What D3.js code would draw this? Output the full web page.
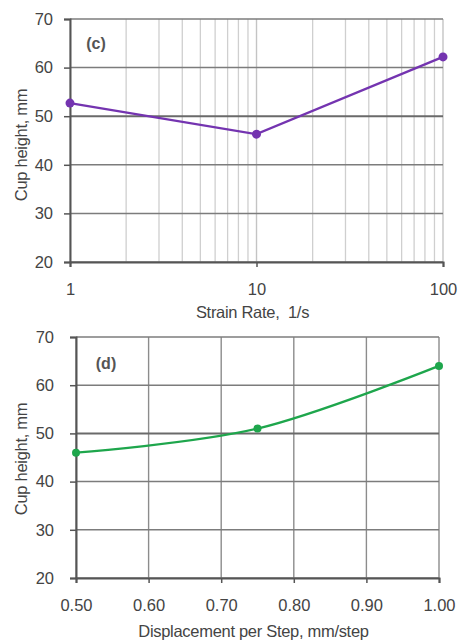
<!DOCTYPE html>
<html>
<head>
<meta charset="utf-8">
<script src="https://cdn.jsdelivr.net/npm/d3@7"></script>
<style>
  body { margin: 0; background: #fff; }
  text { font-family: "Liberation Sans", Arial, sans-serif; white-space: pre; }
</style>
</head>
<body>
<svg id="chart" width="460" height="642"></svg>
<script>
// panel (c): strain rate vs cup height
const strainRates = [1, 10, 100];
const cupHeightC = [52.7, 46.3, 62.2];
const strainTicks = [1, 10, 100];

// panel (d): displacement per step vs cup height
const displacements = [0.5, 0.75, 1.0];
const cupHeightD = [46.0, 51.0, 64.0];
const dispTicks = [0.5, 0.6, 0.7, 0.8, 0.9, 1.0];

const yTicks = [20, 30, 40, 50, 60, 70];

const svg = d3.select("#chart");

function panel({ top, bottom, left, right, x, xTicks, xFmt, minorTicks, vColor, xs, ys, color, curve, label, labelPos, xTitle, titleY, yTitleY, xPad, yPad, r }) {
  const y = d3.scaleLinear().domain([20, 70]).range([bottom, top]);
  x.range([left, right]);

  const g = svg.append("g");

  // minor vertical grid (log panel)
  g.selectAll(".minor")
    .data(minorTicks)
    .join("line")
    .attr("x1", (d) => x(d)).attr("x2", (d) => x(d))
    .attr("y1", top).attr("y2", bottom)
    .attr("stroke", "#cfcfcf")
    .attr("stroke-width", 1.3);

  // major vertical grid
  g.selectAll(".vgrid")
    .data(xTicks)
    .join("line")
    .attr("x1", (d) => x(d)).attr("x2", (d) => x(d))
    .attr("y1", top).attr("y2", bottom)
    .attr("stroke", vColor)
    .attr("stroke-width", 1.4);

  // horizontal grid
  g.selectAll(".hgrid")
    .data(yTicks)
    .join("line")
    .attr("x1", left).attr("x2", right)
    .attr("y1", (d) => y(d)).attr("y2", (d) => y(d))
    .attr("stroke", (d) => (d === 50 ? "#6a6a6a" : "#7c7c7c"))
    .attr("stroke-width", (d) => (d === 50 ? 2 : 1.5));

  // y axis
  const ya = g.append("g")
    .attr("transform", `translate(${left},0)`)
    .call(d3.axisLeft(y).tickValues(yTicks).tickSize(6).tickPadding(yPad));
  ya.select(".domain").attr("stroke", "#555").attr("stroke-width", 2);
  ya.selectAll(".tick line").attr("stroke", "#555").attr("stroke-width", 1.5);
  ya.selectAll(".tick text").attr("fill", "#444").style("font-size", "16.5px");

  // x axis
  const xa = g.append("g")
    .attr("transform", `translate(0,${bottom})`)
    .call(d3.axisBottom(x).tickValues(xTicks).tickFormat(xFmt).tickSize(5).tickPadding(xPad));
  xa.select(".domain").attr("stroke", "#555").attr("stroke-width", 2);
  xa.selectAll(".tick line").attr("stroke", "#555").attr("stroke-width", 1.5);
  xa.selectAll(".tick text").attr("fill", "#444").style("font-size", "16.5px");

  // titles
  g.append("text")
    .attr("x", (left + right) / 2 - 4)
    .attr("y", titleY)
    .attr("text-anchor", "middle")
    .attr("fill", "#444")
    .style("font-size", "16.5px")
    .style("letter-spacing", "-0.3px")
    .text(xTitle);

  g.append("text")
    .attr("transform", `translate(27,${yTitleY}) rotate(-90)`)
    .attr("text-anchor", "middle")
    .attr("fill", "#444")
    .style("font-size", "16.5px")
    .style("letter-spacing", "-0.3px")
    .text("Cup height, mm");

  g.append("text")
    .attr("x", labelPos[0])
    .attr("y", labelPos[1])
    .attr("text-anchor", "middle")
    .attr("fill", "#555")
    .style("font-size", "16px")
    .style("font-weight", "bold")
    .text(label);

  const pts = xs.map((d, i) => [d, ys[i]]);
  const line = d3.line()
    .x((d) => x(d[0]))
    .y((d) => y(d[1]))
    .curve(curve);

  g.append("path")
    .attr("d", line(pts))
    .attr("fill", "none")
    .attr("stroke", color)
    .attr("stroke-width", 2.3);

  g.selectAll(".pt")
    .data(pts)
    .join("circle")
    .attr("cx", (d) => x(d[0]))
    .attr("cy", (d) => y(d[1]))
    .attr("r", r)
    .attr("fill", color);
}

const minorLog = [];
[1, 10].forEach((p) => {
  for (let k = 2; k <= 9; k++) minorLog.push(k * p);
});

panel({
  top: 19, bottom: 262, left: 70, right: 443,
  x: d3.scaleLog().domain([1, 100]),
  xTicks: strainTicks,
  xFmt: d3.format("d"),
  minorTicks: minorLog,
  vColor: "#c4c4c4",
  xs: strainRates, ys: cupHeightC,
  color: "#7434b0",
  curve: d3.curveLinear,
  label: "(c)", labelPos: [96, 49],
  xTitle: "Strain Rate,  1/s", titleY: 318, yTitleY: 145, xPad: 16, yPad: 11,
  r: 4.5
});

panel({
  top: 337, bottom: 578, left: 76, right: 439,
  x: d3.scaleLinear().domain([0.5, 1.0]),
  xTicks: dispTicks,
  xFmt: d3.format(".2f"),
  minorTicks: [],
  vColor: "#8c8c8c",
  xs: displacements, ys: cupHeightD,
  color: "#1ea64c",
  curve: d3.curveCardinal.tension(0),
  label: "(d)", labelPos: [106, 369],
  xTitle: "Displacement per Step, mm/step", titleY: 637, yTitleY: 459, xPad: 16, yPad: 16,
  r: 4
});
</script>
</body>
</html>
